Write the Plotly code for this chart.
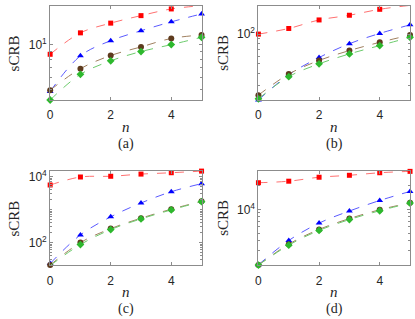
import plotly.graph_objects as go
from plotly.subplots import make_subplots

n_vals = [0, 1, 2, 3, 4, 5]
panel_labels = ["(a)", "(b)", "(c)", "(d)"]

# panel (a)
a_red = [8.61, 12.0, 13.95, 15.67, 17.38, 18.28]
a_blue = [4.84, 8.41, 10.63, 12.4, 14.23, 16.1]
a_brown = [4.94, 6.89, 8.45, 9.65, 11.0, 11.6]
a_green = [4.24, 6.31, 7.78, 8.98, 10.0, 11.2]
# panel (b)
b_red = [100, 114, 139, 155, 178, 195]
b_blue = [21.6, 38.9, 58, 80, 101.6, 124]
b_brown = [24.2, 39.5, 54.2, 68.2, 82.6, 97.7]
b_green = [22.2, 37.2, 50.1, 63.1, 76.6, 92.7]
# panel (c)
c_red = [5600, 9800, 10300, 12000, 13200, 14800]
c_blue = [23, 171, 603, 1590, 3500, 6150]
c_brown = [20.7, 100, 265, 550, 1030, 1790]
c_green = [20, 87, 248, 523, 980, 1750]
# panel (d)
d_red = [21800, 22800, 25600, 27100, 29200, 30400]
d_blue = [1972, 4018, 6683, 9520, 12960, 16900]
d_brown = [1955, 3610, 5560, 7630, 9885, 12100]
d_green = [1955, 3508, 5400, 7413, 9605, 12000]

# y ranges (log10) and labelled decades
y_ranges = [[0.627, 1.26], [1.334, 2.284], [1.315, 4.173], [3.291, 4.4875]]
y_major = [[1], [2], [2, 4], [4]]

panels = [
    (a_red, a_blue, a_brown, a_green),
    (b_red, b_blue, b_brown, b_green),
    (c_red, c_blue, c_brown, c_green),
    (d_red, d_blue, d_brown, d_green),
]

series_style = [
    dict(mc="#FF0000", lc="#FF7070", sym="square", size=5),
    dict(mc="#0000FF", lc="#5A5AFF", sym="triangle-up", size=6),
    dict(mc="#5E3B1E", lc="#A08060", sym="circle", size=6),
    dict(mc="#2DB82D", lc="#6CCB6C", sym="diamond", size=6),
]

W, H = 415, 319
fig = make_subplots(rows=2, cols=2)

xdom = [[47.5 / W, 200 / W], [257.3 / W, 410 / W]]
ydom = [[1 - 98 / H, 1 - 3 / H], [1 - 264.6 / H, 1 - 169.6 / H]]

frame = "#8C8C8C"
serif = "'Liberation Serif', 'DejaVu Serif', serif"
sans = "'Liberation Sans', Arial, sans-serif"

for i, data in enumerate(panels):
    r, c = i // 2 + 1, i % 2 + 1
    for vals, st in zip(data, series_style):
        fig.add_trace(go.Scatter(
            x=n_vals, y=vals, mode="lines+markers",
            line=dict(color=st["lc"], width=1, dash="dash", shape="spline"),
            marker=dict(color=st["mc"], symbol=st["sym"], size=st["size"], line=dict(width=0)),
            showlegend=False, cliponaxis=False,
        ), row=r, col=c)
    fig.update_xaxes(
        domain=xdom[c - 1], range=[0, 5], tickvals=[0, 2, 4],
        ticks="inside", ticklen=3, tickcolor=frame, showline=True, linecolor=frame,
        linewidth=1, mirror="ticks", showgrid=False, zeroline=False,
        ticklabelstandoff=4,
        tickfont=dict(family=sans, size=12, color="#262626"),
        row=r, col=c)
    fig.update_yaxes(
        domain=ydom[r - 1], type="log", range=y_ranges[i],
        tickvals=[10 ** k for k in y_major[i]],
        ticktext=["10<sup>%d</sup>" % k for k in y_major[i]],
        ticks="inside", ticklen=3, tickcolor=frame, showline=True, linecolor=frame,
        linewidth=1, mirror="ticks", showgrid=False, zeroline=False,
        minor=dict(ticks="inside", ticklen=2, tickcolor=frame, dtick="D1", showgrid=False),
        tickfont=dict(family=sans, size=12, color="#262626"),
        row=r, col=c)

annotations = []
for i, lab in enumerate(panel_labels):
    r, c = i // 2, i % 2
    x0, x1 = xdom[c]
    xc = (x0 + x1) / 2
    ybot_px = 98 if r == 0 else 264.6
    ytop_px = 3 if r == 0 else 169.6
    annotations.append(dict(x=xc, y=1 - (ybot_px + 27) / H, xref="paper", yref="paper",
                            xanchor="center", yanchor="middle",
                            text="<i>n</i>", showarrow=False,
                            font=dict(family=serif, size=15, color="#262626")))
    annotations.append(dict(x=xc, y=1 - (ybot_px + 44) / H, xref="paper", yref="paper",
                            xanchor="center", yanchor="middle",
                            text=lab, showarrow=False,
                            font=dict(family=serif, size=14, color="#262626")))
    annotations.append(dict(x=(x0 * W - 36) / W, y=1 - ((ybot_px + ytop_px) / 2) / H,
                            xref="paper", yref="paper", text="sCRB", showarrow=False,
                            xanchor="center", yanchor="middle",
                            textangle=-90,
                            font=dict(family=serif, size=15, color="#262626")))

fig.update_layout(
    width=W, height=H, margin=dict(l=0, r=0, t=0, b=0),
    paper_bgcolor="white", plot_bgcolor="white",
    annotations=annotations,
)

fig.write_html("out.html", config={"displayModeBar": False})

with open("out.html", "r", encoding="utf-8") as f:
    html = f.read()
html = html.replace("<head>", "<head><style>html,body{margin:0;padding:0;overflow:hidden;}</style>", 1)
with open("out.html", "w", encoding="utf-8") as f:
    f.write(html)
